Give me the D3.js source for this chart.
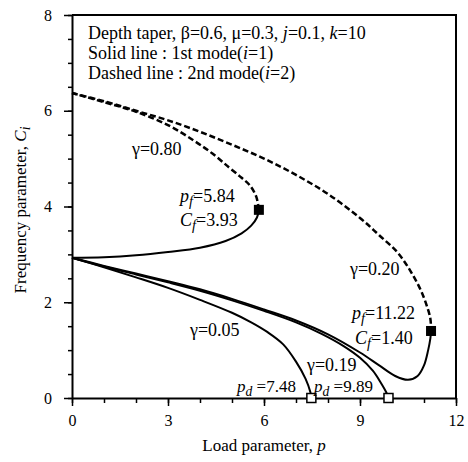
<!DOCTYPE html>
<html>
<head>
<meta charset="utf-8">
<script src="https://cdn.jsdelivr.net/npm/d3@7"></script>
<style>
  body { margin: 0; background: #fff; }
  svg text { font-family: "Liberation Serif", "DejaVu Serif", serif; fill: #000; }
</style>
</head>
<body>
<script>
// curves: [load p, frequency C]
let solid080 = [[0,2.93],[1,2.94],[2,2.98],[3,3.05],[4,3.14],[4.8,3.28],[5.3,3.44],[5.6,3.6],[5.78,3.77],[5.84,3.93]];
let dashed080 = [[5.84,3.93],[5.76,4.2],[5.56,4.44],[5.3,4.6],[4.9,4.82],[4.4,5.1],[3.8,5.38],[3,5.7],[2,5.98],[1,6.18],[0,6.37]];
let dashed020 = [[0,6.37],[1,6.2],[2,6.0],[3,5.8],[4,5.56],[5,5.29],[6,5.0],[7,4.66],[8,4.26],[9,3.76],[9.6,3.4],[10.16,3.05],[10.56,2.67],[10.9,2.25],[11.1,1.9],[11.2,1.65],[11.22,1.40]];
let solid020 = [[0,2.93],[1,2.76],[2,2.6],[3,2.44],[4,2.27],[5,2.07],[6,1.85],[7,1.62],[8,1.33],[9,0.95],[9.6,0.68],[10.1,0.46],[10.5,0.38],[10.8,0.46],[11.0,0.68],[11.13,1.0],[11.2,1.25],[11.22,1.40]];
let solid019 = [[0,2.93],[1,2.745],[2,2.58],[3,2.415],[4,2.24],[5,2.04],[6,1.82],[7,1.58],[7.8,1.34],[8.5,1.08],[9,0.84],[9.4,0.57],[9.65,0.32],[9.82,0.12],[9.89,0]];
let solid005 = [[0,2.93],[1,2.73],[2,2.52],[3,2.3],[4,2.05],[5,1.78],[5.6,1.58],[6.1,1.38],[6.6,1.12],[7.0,0.76],[7.3,0.4],[7.45,0.12],[7.48,0]];

let flutterPts = [[5.84,3.93],[11.22,1.40]];
let divergePts = [[7.48,0],[9.89,0]];

let xTicks = [0,3,6,9,12];
let yTicks = [0,2,4,6,8];

let width = 468, height = 462;
let serif = '"Liberation Serif", "DejaVu Serif", serif';
let svg = d3.select('body').append('svg')
            .attr('width', width)
            .attr('height', height);

let x = d3.scaleLinear().domain([0,12]).range([72,456]);
let y = d3.scaleLinear().domain([0,8]).range([398,15]);

// frame
svg.append('path')
   .attr('d', `M${x(0)},${y(8)}H${x(12)}V${y(0)}`)
   .attr('fill', 'none').attr('stroke', '#000').attr('stroke-width', 2);

// axes: minor then major
svg.append('g').attr('transform', `translate(0,${y(0)})`)
   .call(d3.axisBottom(x).ticks(12).tickSize(5).tickFormat(''))
   .call(g => g.select('.domain').remove())
   .selectAll('line').attr('stroke-width', 1.5);
let gx = svg.append('g').attr('transform', `translate(0,${y(0)})`)
   .call(d3.axisBottom(x).tickValues(xTicks).tickSize(8).tickSizeOuter(0).tickPadding(9));
gx.select('.domain').attr('stroke-width', 2);
gx.selectAll('line').attr('stroke-width', 1.5);
gx.selectAll('text').attr('font-size', 16).attr('font-family', serif);

svg.append('g').attr('transform', `translate(${x(0)},0)`)
   .call(d3.axisLeft(y).ticks(16).tickSize(4).tickFormat(''))
   .call(g => g.select('.domain').remove())
   .selectAll('line').attr('stroke-width', 1.5);
let gy = svg.append('g').attr('transform', `translate(${x(0)},0)`)
   .call(d3.axisLeft(y).tickValues(yTicks).tickSize(8).tickSizeOuter(0).tickPadding(12));
gy.select('.domain').attr('stroke-width', 2);
gy.selectAll('line').attr('stroke-width', 1.5);
gy.selectAll('text').attr('font-size', 16).attr('font-family', serif);

// curves
let line = d3.line().x(d => x(d[0])).y(d => y(d[1])).curve(d3.curveCatmullRom.alpha(0.5));
let solids = [solid080, solid020, solid019, solid005];
let dashes = [dashed080, dashed020];

svg.selectAll('path.solid').data(solids).enter().append('path')
   .attr('class', 'solid')
   .attr('d', line)
   .attr('fill', 'none').attr('stroke', '#000').attr('stroke-width', 2);

svg.selectAll('path.dash').data(dashes).enter().append('path')
   .attr('class', 'dash')
   .attr('d', line)
   .attr('fill', 'none').attr('stroke', '#000').attr('stroke-width', 2.5)
   .attr('stroke-dasharray', '6,3');

// markers
svg.selectAll('rect.flut').data(flutterPts).enter().append('rect')
   .attr('x', d => x(d[0]) - 5).attr('y', d => y(d[1]) - 5)
   .attr('width', 10).attr('height', 10).attr('fill', '#000');
svg.selectAll('rect.div').data(divergePts).enter().append('rect')
   .attr('x', d => x(d[0]) - 4.5).attr('y', d => y(d[1]) - 4.5)
   .attr('width', 9).attr('height', 9)
   .attr('fill', '#fff').attr('stroke', '#000').attr('stroke-width', 1.5);

// text helper: parts are [text, style] where style in '', 'i' (italic), 'sub' (italic subscript)
function rich(px, py, parts, size) {
  size = size || 18;
  let t = svg.append('text').attr('x', px).attr('y', py)
             .attr('font-size', size).attr('font-family', serif);
  parts.forEach(p => {
    let s = t.append('tspan').text(p[0]);
    if (p[1] === 'i') s.attr('font-style', 'italic');
    if (p[1] === 'sub') s.attr('font-style', 'italic').attr('baseline-shift', '-25%').attr('font-size', size * 0.8);
  });
  return t;
}

rich(88, 39, [['Depth taper, β=0.6, μ=0.3, ',''],['j','i'],['=0.1, ',''],['k','i'],['=10','']]);
rich(88, 59, [['Solid line : 1st mode(',''],['i','i'],['=1)','']]);
rich(88, 79, [['Dashed line : 2nd mode(',''],['i','i'],['=2)','']]);

rich(132, 155, [['γ=0.80','']]);
rich(180, 202, [['p','i'],['f','sub'],['=5.84','']]);
rich(180, 226, [['C','i'],['f','sub'],['=3.93','']]);
rich(350, 275, [['γ=0.20','']]);
rich(352, 319, [['p','i'],['f','sub'],['=11.22','']]);
rich(355, 344, [['C','i'],['f','sub'],['=1.40','']]);
rich(190, 336, [['γ=0.05','']]);
rich(307, 371, [['γ=0.19','']]);
rich(237, 392, [['p','i'],['d','sub'],[' =7.48','']], 17);
rich(314, 392, [['p','i'],['d','sub'],[' =9.89','']], 17);

// axis titles
rich(264, 451, [['Load parameter, ',''],['p','i']], 17).attr('text-anchor', 'middle');
rich(0, 0, [['Frequency parameter, ',''],['C','i'],['i','sub']], 17)
  .attr('text-anchor', 'middle')
  .attr('transform', 'translate(26,210) rotate(-90)');
</script>
</body>
</html>
